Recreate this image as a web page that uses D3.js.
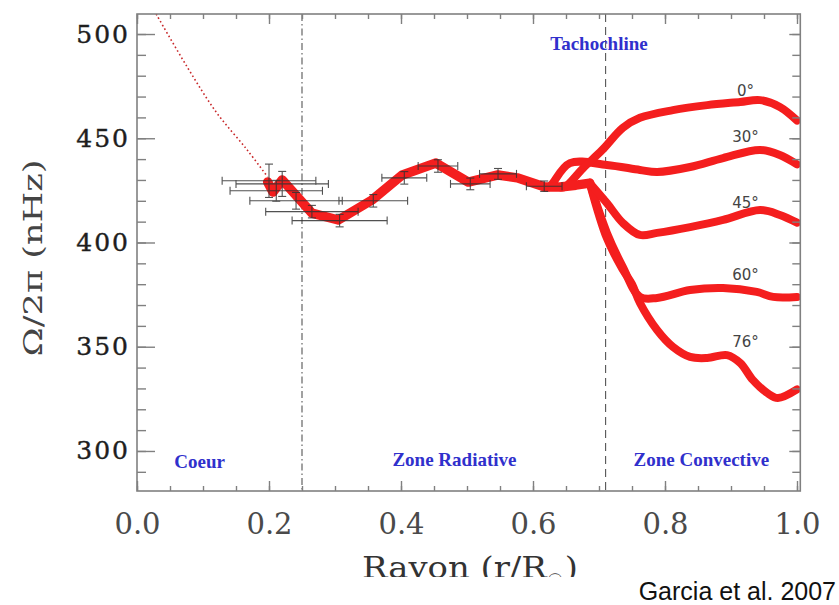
<!DOCTYPE html>
<html><head><meta charset="utf-8">
<script src="https://cdn.jsdelivr.net/npm/d3@7"></script>
<style>body{margin:0;background:#fff}svg{display:block}</style>
</head><body><svg id="c" width="839" height="605"></svg>
<script>
// ---- data ----
const xTicks = [0.0, 0.2, 0.4, 0.6, 0.8, 1.0];
const yTicks = [300, 350, 400, 450, 500];
// core model extrapolation (dotted)
const coreR = [0.029, 0.076, 0.121, 0.167, 0.198];
const coreV = [509.6, 484.2, 462.1, 444.4, 431.4];
// radiative zone profile
const radR = [0.198, 0.206, 0.220, 0.265, 0.305, 0.356, 0.402, 0.453, 0.502, 0.547, 0.576, 0.618, 0.641, 0.665, 0.686];
const radV = [429.0, 424.2, 430.0, 414.1, 410.8, 420.4, 432.4, 438.1, 429.0, 432.4, 431.0, 426.6, 426.6, 427.5, 428.5];
// error bars
const errR  = [0.200, 0.220, 0.211, 0.241, 0.265, 0.307, 0.358, 0.405, 0.456, 0.505, 0.547, 0.617];
const errV  = [429.6, 428.1, 424.8, 420.0, 414.8, 410.5, 420.0, 431.0, 436.7, 428.1, 432.9, 427.0];
const errDR = [0.071, 0.070, 0.070, 0.070, 0.070, 0.072, 0.052, 0.034, 0.030, 0.030, 0.028, 0.027];
const errDV = [8.0, 6.0, 5.0, 4.0, 3.0, 3.0, 3.0, 3.0, 3.0, 2.8, 2.6, 2.5];
// convective zone, by latitude
const lat0R  = [0.641, 0.648, 0.676, 0.705, 0.736, 0.762, 0.812, 0.864, 0.914, 0.944, 0.974, 1.0];
const lat0V  = [426.6, 426.6, 435.7, 444.4, 455.0, 459.8, 463.5, 465.9, 467.4, 468.3, 465.0, 458.5];
const lat30R = [0.625, 0.630, 0.656, 0.712, 0.762, 0.788, 0.838, 0.888, 0.944, 0.974, 1.0];
const lat30V = [426.6, 428.5, 438.1, 437.2, 434.8, 433.8, 436.2, 440.5, 444.4, 442.0, 437.5];
const lat45R = [0.686, 0.712, 0.736, 0.762, 0.788, 0.838, 0.888, 0.944, 0.974, 1.0];
const lat45V = [428.5, 418.9, 409.4, 403.6, 404.6, 407.4, 410.8, 415.6, 413.2, 409.5];
const lat60R = [0.686, 0.712, 0.736, 0.762, 0.788, 0.838, 0.888, 0.939, 0.964, 1.0];
const lat60V = [428.5, 404.6, 388.3, 373.9, 373.4, 377.2, 378.2, 376.3, 373.9, 373.9];
const lat76R = [0.686, 0.712, 0.736, 0.750, 0.762, 0.788, 0.812, 0.838, 0.864, 0.894, 0.914, 0.933, 0.955, 0.971, 1.0];
const lat76V = [428.5, 402.0, 387.0, 380.0, 371.0, 358.0, 349.9, 345.1, 344.6, 346.0, 342.2, 334.1, 327.8, 325.4, 329.5];
const latLabels = ["0°", "30°", "45°", "60°", "76°"];
const latLabelV = [473, 450.6, 419, 384.4, 352.3];
const zoneLabels = ["Coeur", "Zone Radiative", "Zone Convective", "Tachochline"];
const zoneLabelR = [0.095, 0.481, 0.855, 0.700];
const zoneLabelV = [295.2, 296.2, 296.2, 495.3];
const rCoreLine = 0.25, rTacho = 0.71;

// ---- drawing ----
const svg = d3.select("#c");
const x = d3.scaleLinear().domain([0, 1.005]).range([137, 800.3]);
const y = d3.scaleLinear().domain([280.8, 509.6]).range([491, 14]);
const X0 = x.range()[0], X1 = x.range()[1], Y0 = y.range()[1], Y1 = y.range()[0];

svg.append("clipPath").attr("id","plot").append("rect")
  .attr("x", X0).attr("y", Y0).attr("width", X1 - X0).attr("height", Y1 - Y0);
const g = svg.append("g").attr("clip-path","url(#plot)");

// vertical markers
g.append("line").attr("x1", x(rCoreLine)).attr("x2", x(rCoreLine)).attr("y1", Y0).attr("y2", Y1)
  .attr("stroke","#555").attr("stroke-width",1.1).attr("stroke-dasharray","7,3,1.5,3");
g.append("line").attr("x1", x(rTacho)).attr("x2", x(rTacho)).attr("y1", Y0).attr("y2", Y1)
  .attr("stroke","#555").attr("stroke-width",1.1).attr("stroke-dasharray","8,5");

const line = d3.line().x(d => x(d[0])).y(d => y(d[1]));
const smooth = d3.line().x(d => x(d[0])).y(d => y(d[1])).curve(d3.curveCatmullRom.alpha(0.5));
const zip = (a, b) => a.map((v, i) => [v, b[i]]);

g.append("path").attr("d", smooth(zip(coreR, coreV))).attr("fill","none")
  .attr("stroke","#c8282a").attr("stroke-width",1.6).attr("stroke-dasharray","1.6,2.6");

const red = "#f41e1e";
[[lat76R, lat76V],[lat60R, lat60V],[lat45R, lat45V],[lat30R, lat30V],[lat0R, lat0V]].forEach(s => {
  g.append("path").attr("d", smooth(zip(s[0], s[1]))).attr("fill","none")
    .attr("stroke", red).attr("stroke-width", 8).attr("stroke-linejoin","round").attr("stroke-linecap","round");
});
g.append("path").attr("d", line(zip(radR, radV))).attr("fill","none")
  .attr("stroke", red).attr("stroke-width", 9.5).attr("stroke-linejoin","round").attr("stroke-linecap","round");

// error bars
const eb = g.append("g").attr("stroke","#333").attr("stroke-width",1.1).attr("opacity",0.85).attr("fill","none");
errR.forEach((r, i) => {
  const v = errV[i], dr = errDR[i], dv = errDV[i];
  const cy = y(v), cx = x(r);
  eb.append("line").attr("x1", x(r - dr)).attr("x2", x(r + dr)).attr("y1", cy).attr("y2", cy);
  eb.append("line").attr("x1", x(r - dr)).attr("x2", x(r - dr)).attr("y1", cy - 4).attr("y2", cy + 4);
  eb.append("line").attr("x1", x(r + dr)).attr("x2", x(r + dr)).attr("y1", cy - 4).attr("y2", cy + 4);
  eb.append("line").attr("x1", cx).attr("x2", cx).attr("y1", y(v - dv)).attr("y2", y(v + dv));
  eb.append("line").attr("x1", cx - 4).attr("x2", cx + 4).attr("y1", y(v - dv)).attr("y2", y(v - dv));
  eb.append("line").attr("x1", cx - 4).attr("x2", cx + 4).attr("y1", y(v + dv)).attr("y2", y(v + dv));
});

// axes
const axisCol = "#808080";
const xMinor = d3.range(0, 1.0001, 0.05);
const yMinor = d3.range(290, 510, 10);
function styleAxis(sel){ sel.selectAll("path,line").attr("stroke", axisCol).attr("stroke-width",1.4); sel.select(".domain").remove(); }

const bx = svg.append("g").attr("transform",`translate(0,${Y1})`)
  .call(d3.axisBottom(x).tickValues(xTicks).tickSize(-10).tickPadding(22).tickFormat(d3.format(".1f")));
styleAxis(bx);
bx.selectAll("text").attr("font-family","DejaVu Serif").attr("font-size",29).attr("fill","#4a4a4a");
styleAxis(svg.append("g").attr("transform",`translate(0,${Y1})`).call(d3.axisBottom(x).tickValues(xMinor).tickSize(-5).tickFormat("")));
styleAxis(svg.append("g").attr("transform",`translate(0,${Y0})`).call(d3.axisTop(x).tickValues(xTicks).tickSize(-10).tickFormat("")));
styleAxis(svg.append("g").attr("transform",`translate(0,${Y0})`).call(d3.axisTop(x).tickValues(xMinor).tickSize(-5).tickFormat("")));

const ly = svg.append("g").attr("transform",`translate(${X0},0)`)
  .call(d3.axisLeft(y).tickValues(yTicks).tickSize(-18).tickPadding(9));
styleAxis(ly);
ly.selectAll("text").attr("font-family","DejaVu Serif").attr("font-size",25).attr("fill","#1e1e1e")
  .attr("letter-spacing","2px").attr("dx","2").attr("stroke","#1e1e1e").attr("stroke-width",0.4);
styleAxis(svg.append("g").attr("transform",`translate(${X0},0)`).call(d3.axisLeft(y).tickValues(yMinor).tickSize(-9).tickFormat("")));
styleAxis(svg.append("g").attr("transform",`translate(${X1},0)`).call(d3.axisRight(y).tickValues(yTicks).tickSize(-11).tickFormat("")));
styleAxis(svg.append("g").attr("transform",`translate(${X1},0)`).call(d3.axisRight(y).tickValues(yMinor).tickSize(-8).tickFormat("")));

svg.append("rect").attr("x", X0).attr("y", Y0).attr("width", X1 - X0).attr("height", Y1 - Y0)
  .attr("fill","none").attr("stroke", axisCol).attr("stroke-width",1.6);

// latitude labels
latLabels.forEach((t, i) => {
  svg.append("text").attr("x", x(0.922)).attr("y", y(latLabelV[i])).attr("dy","0.35em")
    .attr("text-anchor","middle").attr("font-family","DejaVu Sans").attr("font-size",15)
    .attr("fill","#444").text(t);
});
// zone labels
zoneLabels.forEach((t, i) => {
  svg.append("text").attr("x", x(zoneLabelR[i])).attr("y", y(zoneLabelV[i])).attr("dy","0.35em")
    .attr("text-anchor","middle").attr("font-family","Liberation Serif").attr("font-weight","bold")
    .attr("font-size",19).attr("fill","#3030cc").text(t);
});

// axis titles
svg.append("clipPath").attr("id","bot").append("rect").attr("x",0).attr("y",0).attr("width",839).attr("height",577);
const xtG = svg.append("g").attr("clip-path","url(#bot)");
const xtInner = xtG.append("g").attr("font-family","DejaVu Serif").attr("fill","#333");
const parts = [["Rayon (r/R", 30, 0], ["☉", 16, 7], [")", 30, 0]];
let cursor = 0;
parts.forEach(p => {
  const t = xtInner.append("text").attr("x", cursor).attr("y", p[2]).attr("font-size", p[1]).text(p[0]);
  cursor += t.node().getComputedTextLength() + (p[0] === "☉" ? 2 : 0);
});
const sx = 216 / cursor;
xtInner.attr("transform", `translate(362,578) scale(${sx},1)`);

svg.append("text").attr("transform","translate(42,258) rotate(-90)").attr("text-anchor","middle")
  .attr("font-family","DejaVu Serif").attr("font-size",26).attr("fill","#444")
  .attr("textLength",197).attr("lengthAdjust","spacingAndGlyphs").text("Ω/2π (nHz)");

svg.append("text").attr("x", 836).attr("y", 600).attr("text-anchor","end")
  .attr("font-family","Liberation Sans").attr("font-size",25).attr("fill","#111").text("Garcia et al. 2007");
</script></body></html>
